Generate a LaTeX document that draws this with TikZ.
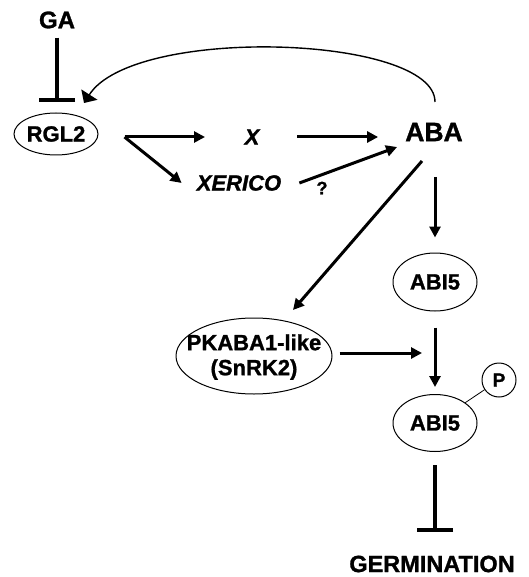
\documentclass[tikz,border=0pt]{standalone}
\usepackage{fontspec}
\setmainfont{Liberation Sans}[BoldFeatures={FakeBold=1.2},BoldItalicFeatures={FakeBold=1.2}]
\usetikzlibrary{arrows.meta,shapes.geometric,calc}
\begin{document}
\begin{tikzpicture}[x=1pt,y=1pt,
  lbl/.style={inner sep=0pt, font=\fontsize{22}{25}\selectfont\bfseries},
  ital/.style={inner sep=0pt, font=\fontsize{22}{25}\selectfont\bfseries\itshape},
  oval/.style={draw, ellipse, line width=1pt, inner sep=0pt},
  arr/.style={line width=3pt, -{Triangle[length=11pt,width=11pt]}},
  inh/.style={line width=3.2pt, -{Bar[width=36pt,line width=4.8pt]}},
]
\useasboundingbox (0,0) rectangle (528,-577);

% nodes
\node[lbl, font=\fontsize{24}{27}\selectfont\bfseries] (GA) at (57,-20) {GA};
\node[lbl, oval, minimum width=84pt, minimum height=42pt] (RGL2) at (56,-134) {RGL2};
\node[ital] (X) at (252,-137) {X};
\node[lbl, font=\fontsize{26.5}{30}\selectfont\bfseries] (ABA) at (434,-132) {ABA};
\node[ital] (XER) at (239,-183) {XERICO};
\node[inner sep=0pt, font=\fontsize{18}{20}\selectfont\bfseries] (Q) at (322,-188) {?};
\node[lbl, oval, minimum width=84pt, minimum height=58pt] (ABIa) at (435,-282) {ABI5};
\node[draw, ellipse, line width=1pt, minimum width=156pt, minimum height=76pt, inner sep=0pt] (PKe) at (254,-356) {};
\node[lbl, align=center, font=\fontsize{22}{25}\selectfont\bfseries] (PK) at (254,-357) {PKABA1-like\\(SnRK2)};
\node[lbl, oval, minimum width=84pt, minimum height=57pt] (ABIb) at (435,-423) {ABI5};
\node[draw, circle, line width=1pt, minimum size=34pt, inner sep=0pt, font=\fontsize{19}{21}\selectfont\bfseries] (P) at (499,-380) {P};
\node[lbl, font=\fontsize{23.5}{27}\selectfont\bfseries] (G) at (432,-564) {GERMINATION};

% connectors
\draw[inh] ($(GA.south)+(0,-9)$) -- ($(GA.south |- RGL2.north)+(0,10)$);
\draw[line width=1.4pt, -{Triangle[length=10pt,width=19pt]}]
  ($(ABA.center)+(1,30)$) .. controls +(0,67) and +(50,78) .. ($(RGL2.center)+(28,31)$);
\coordinate (rgo) at ($(RGL2.east |- X.center)+(26,0)$);
\draw[arr] (rgo) -- ($(X.center)+(-47,0)$);
\draw[arr] (rgo) -- ($(XER.west)+(-15,0)$);
\draw[arr] ($(X.center)+(45,0)$) -- ($(X.center -| ABA.west)+(-27,0)$);
\draw[arr] ($(XER.east)+(18,0)$) -- ($(ABA.west)+(-8,-15)$);
\draw[arr] ($(ABA.center)+(-12,-29)$) -- ($(PKe.center)+(39,46)$);
\draw[arr] ($(ABA.center)+(1,-45)$) -- ($(ABIa.north)+(0,15)$);
\draw[arr] ($(ABIa.south)+(0,-16)$) -- ($(ABIb.north)+(0,7)$);
\draw[arr] ($(PKe.east)+(7,3)$) -- ($(PKe.east -| ABIa.center)+(-13,3)$);
\draw[inh] ($(ABIb.south)+(0,-13)$) -- ($(G.north -| ABIb.center)+(0,23)$);
\draw[line width=0.8pt] (P) -- (ABIb);
\end{tikzpicture}
\end{document}
